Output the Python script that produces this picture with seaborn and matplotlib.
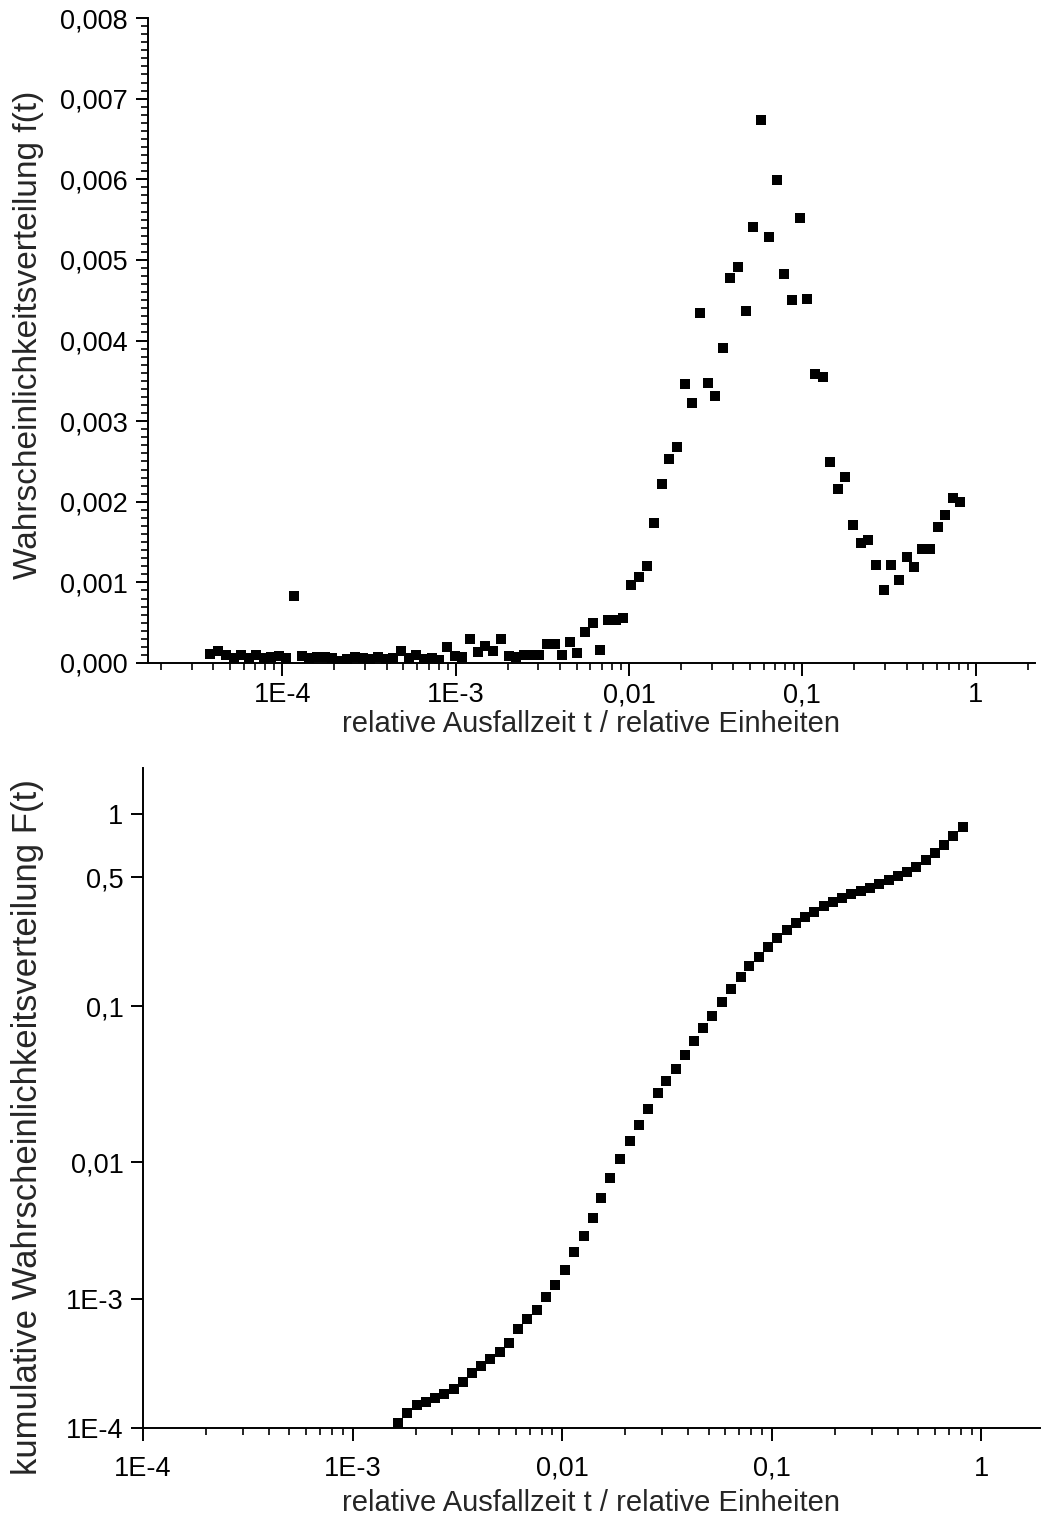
import numpy as np
import matplotlib
matplotlib.use("Agg")
import matplotlib.pyplot as plt
import seaborn as sns
import pandas as pd
from matplotlib.ticker import FixedLocator, FuncFormatter, MultipleLocator, LogLocator, NullFormatter, NullLocator

sns.set_theme(style="ticks")
plt.rcParams['font.family'] = ['Liberation Sans', 'DejaVu Sans']

# ---------------- data ----------------
t = [3.81e-5, 4.26e-5, 4.71e-5, 5.24e-5, 5.78e-5, 6.40e-5, 7.05e-5, 7.80e-5, 8.65e-5, 9.57e-5,
     1.054e-4, 1.167e-4, 1.297e-4, 1.432e-4, 1.585e-4, 1.754e-4, 1.936e-4, 2.143e-4, 2.371e-4, 2.624e-4,
     2.904e-4, 3.221e-4, 3.565e-4, 3.945e-4, 4.365e-4, 4.864e-4, 5.383e-4, 5.929e-4, 6.561e-4, 7.278e-4,
     8.054e-4, 8.913e-4, 9.863e-4, 1.091e-3, 1.211e-3, 1.340e-3, 1.483e-3, 1.641e-3, 1.820e-3, 2.023e-3,
     2.239e-3, 2.466e-3, 2.735e-3, 3.041e-3, 3.365e-3, 3.724e-3, 4.102e-3, 4.550e-3, 5.035e-3, 5.572e-3,
     6.166e-3, 6.839e-3, 7.568e-3, 8.375e-3, 9.268e-3,
     0.01028, 0.01143, 0.01271, 0.01400, 0.01542, 0.01702, 0.01892, 0.02104, 0.02317, 0.02570,
     0.02858, 0.03148, 0.03483, 0.03846, 0.04276, 0.04732, 0.05212, 0.05794, 0.06427, 0.07112,
     0.07834, 0.08710, 0.09661, 0.1064, 0.1183, 0.1309, 0.1445, 0.1600, 0.1770, 0.1959,
     0.2173, 0.2404, 0.2661, 0.2944, 0.3258, 0.3614, 0.3999, 0.4426, 0.4898, 0.5458,
     0.6039, 0.6683, 0.7362, 0.8166]

f = [0.000108, 0.000149, 0.000100, 0.000062, 0.000095, 0.000062, 0.000095, 0.000062, 0.000074, 0.000083,
     0.000066, 0.000830, 0.000087, 0.000066, 0.000074, 0.000070, 0.000066, 0.000020, 0.000054, 0.000070,
     0.000066, 0.000054, 0.000070, 0.000045, 0.000058, 0.000149, 0.000066, 0.000095, 0.000054, 0.000066,
     0.000033, 0.000199, 0.000087, 0.000070, 0.000298, 0.000136, 0.000211, 0.000153, 0.000298, 0.000087,
     0.000070, 0.000095, 0.000103, 0.000095, 0.000236, 0.000236, 0.000100, 0.000260, 0.000120, 0.000389,
     0.000496, 0.000165, 0.000533, 0.000533, 0.000558,
     0.00097, 0.00107, 0.00120, 0.00174, 0.00222, 0.00253, 0.00268, 0.00346, 0.00322, 0.00434,
     0.00347, 0.00331, 0.00391, 0.00477, 0.00491, 0.00437, 0.00541, 0.00673, 0.00528, 0.00599,
     0.00483, 0.00450, 0.00552, 0.00451, 0.00358, 0.00355, 0.00249, 0.00216, 0.00231, 0.00171,
     0.00149, 0.00152, 0.00121, 0.00091, 0.00122, 0.00103, 0.00131, 0.00119, 0.00142, 0.00142,
     0.00169, 0.00184, 0.00205, 0.00200]

# cumulative distribution, measured at t[37:]
F = [1.10e-4, 1.31e-4, 1.51e-4, 1.60e-4, 1.71e-4, 1.84e-4, 1.99e-4, 2.28e-4, 2.69e-4, 3.01e-4,
     3.42e-4, 3.88e-4, 4.56e-4, 5.83e-4, 6.95e-4, 8.22e-4, 1.03e-3, 1.27e-3, 1.64e-3, 2.19e-3,
     2.89e-3, 3.94e-3, 5.49e-3, 7.71e-3, 0.01045, 0.01359, 0.0173, 0.0221, 0.0277, 0.0333,
     0.0397, 0.0484, 0.0598, 0.0724, 0.0871, 0.1057, 0.124, 0.1436, 0.165, 0.185,
     0.209, 0.235, 0.260, 0.284, 0.306, 0.325, 0.347, 0.368, 0.388, 0.405,
     0.423, 0.439, 0.461, 0.482, 0.509, 0.532, 0.562, 0.603, 0.649, 0.712,
     0.785, 0.871]
t_F = t[37:]

x_ticks = [1e-4, 1e-3, 1e-2, 1e-1, 1]
x_ticklabels = ["1E-4", "1E-3", "0,01", "0,1", "1"]
F_ticks = [1e-4, 1e-3, 1e-2, 1e-1, 0.5, 1]
F_ticklabels = ["1E-4", "1E-3", "0,01", "0,1", "0,5", "1"]
f_ticks = [0.0, 0.001, 0.002, 0.003, 0.004, 0.005, 0.006, 0.007, 0.008]

xlabel = "relative Ausfallzeit t / relative Einheiten"
ylabel1 = "Wahrscheinlichkeitsverteilung f(t)"
ylabel2 = "kumulative Wahrscheinlichkeitsverteilung F(t)"

# ---------------- probability scale for F ----------------
_LK = np.array([-6.0, -4.0, -3.0, -2.0, -1.0, np.log10(0.5), 0.0, 1.0])
_SK = np.array([-2.0, 0.0, 1.0, 2.06, 3.27, 4.27, 4.76, 6.38])

def _fwd(v):
    v = np.asarray(v, dtype=float)
    lv = np.log10(np.clip(v, 1e-12, None))
    return np.interp(lv, _LK, _SK)

def _inv(u):
    u = np.asarray(u, dtype=float)
    return 10.0 ** np.interp(u, _SK, _LK)

# ---------------- figure ----------------
W, H = 1041, 1521
fig = plt.figure(figsize=(W / 100, H / 100), dpi=100)
fig.patch.set_facecolor("white")

ax1 = fig.add_axes([147.5 / W, 1 - 663 / H, (1035 - 147.5) / W, (663 - 18) / H])
ax2 = fig.add_axes([143 / W, 1 - 1428 / H, (1040 - 143) / W, (1428 - 768) / H])

TICK_FS = 19.5
XLAB_FS = 21

fmt_map = dict(zip(x_ticks, x_ticklabels))

for ax in (ax1, ax2):
    ax.set_facecolor("white")
    ax.spines["top"].set_visible(False)
    ax.spines["right"].set_visible(False)
    for s in ("left", "bottom"):
        ax.spines[s].set_linewidth(1.4)
        ax.spines[s].set_color("black")
    ax.tick_params(which="major", direction="out", length=9, width=1.4, color="black",
                   labelsize=TICK_FS, labelcolor="black", pad=5)
    ax.tick_params(which="minor", direction="out", length=5, width=1.2, color="black")
    ax.set_xscale("log")

# top panel
df1 = pd.DataFrame({"t": t, "f": f})
sns.scatterplot(data=df1, x="t", y="f", ax=ax1, marker="s", s=44, color="black",
                linewidth=0, legend=False)
ax1.set_xlim(1.67e-5, 2.2)
ax1.set_ylim(0, 0.008)
ax1.xaxis.set_major_locator(FixedLocator(x_ticks))
ax1.xaxis.set_major_formatter(FuncFormatter(lambda v, p: fmt_map.get(v, "")))
ax1.xaxis.set_minor_locator(LogLocator(base=10, subs=np.arange(2, 10), numticks=20))
ax1.xaxis.set_minor_formatter(NullFormatter())
ax1.yaxis.set_major_locator(FixedLocator(f_ticks))
ax1.yaxis.set_major_formatter(FuncFormatter(lambda v, p: f"{v:.3f}".replace(".", ",")))
ax1.yaxis.set_minor_locator(MultipleLocator(0.0001))
ax1.set_xlabel(xlabel, fontsize=XLAB_FS, labelpad=1)
ax1.set_ylabel(ylabel1, fontsize=24)
ax1.yaxis.set_label_coords(-0.117, 0.5085)

# bottom panel
ax2.set_yscale("function", functions=(_fwd, _inv))
df2 = pd.DataFrame({"t": t_F, "F": F})
sns.scatterplot(data=df2, x="t", y="F", ax=ax2, marker="s", s=44, color="black",
                linewidth=0, legend=False)
ax2.set_xlim(1e-4, 1.91)
ax2.set_ylim(1e-4, 1.66)
ax2.xaxis.set_major_locator(FixedLocator(x_ticks))
ax2.xaxis.set_major_formatter(FuncFormatter(lambda v, p: fmt_map.get(v, "")))
ax2.xaxis.set_minor_locator(LogLocator(base=10, subs=np.arange(2, 10), numticks=20))
ax2.xaxis.set_minor_formatter(NullFormatter())
ax2.tick_params(axis="x", which="major", pad=11)
ax2.yaxis.set_major_locator(FixedLocator(F_ticks))
ax2.yaxis.set_major_formatter(FuncFormatter(lambda v, p: dict(zip(F_ticks, F_ticklabels)).get(v, "")))
ax2.yaxis.set_minor_locator(NullLocator())
ax2.set_xlabel(xlabel, fontsize=XLAB_FS, labelpad=5)
ax2.set_ylabel(ylabel2, fontsize=25)
ax2.yaxis.set_label_coords(-0.1107, 0.456)

fig.savefig("out.png", dpi=100, facecolor="white")
